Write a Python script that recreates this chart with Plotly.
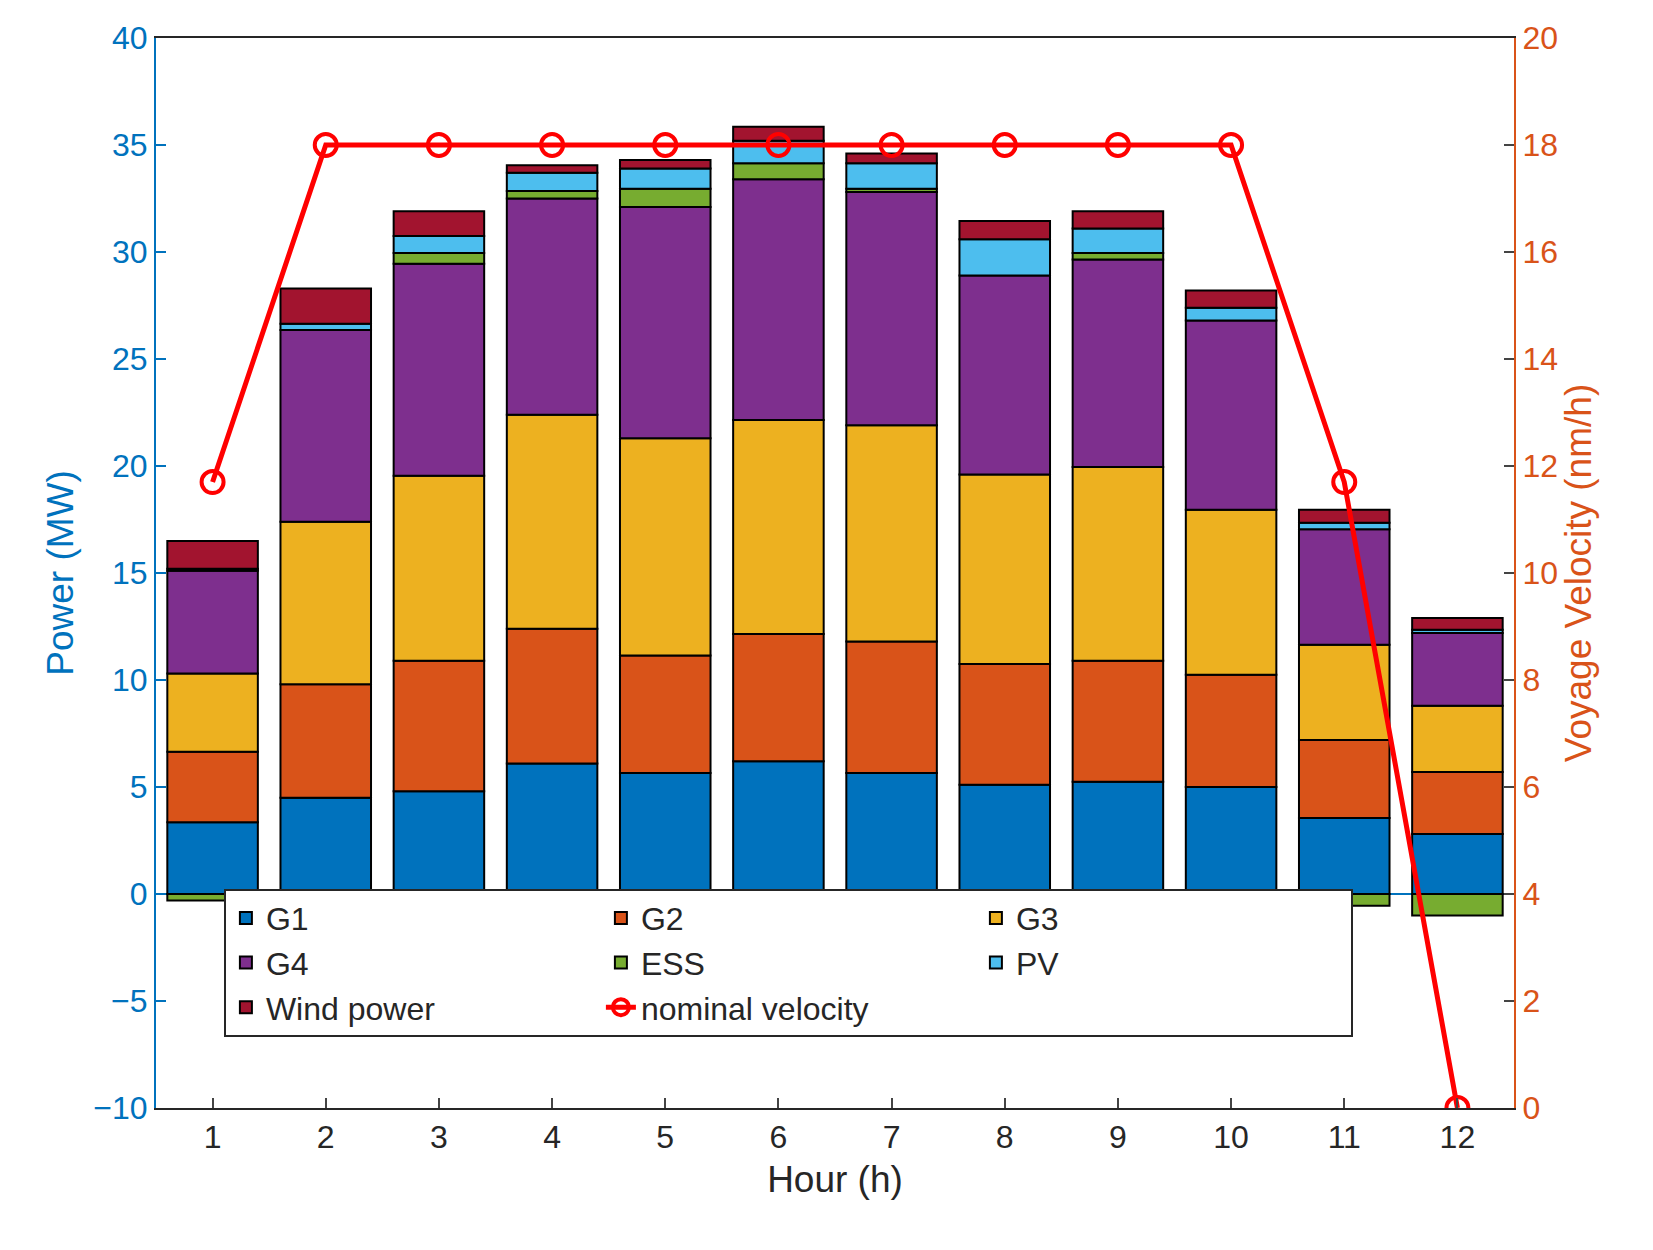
import plotly.graph_objects as go

hours = list(range(1, 13))
G1 = [3.35, 4.5, 4.8, 6.1, 5.65, 6.2, 5.65, 5.1, 5.25, 5.0, 3.55, 2.8]
G2 = [3.3, 5.3, 6.1, 6.3, 5.5, 5.95, 6.15, 5.65, 5.65, 5.25, 3.65, 2.9]
G3 = [3.65, 7.6, 8.65, 10.0, 10.15, 10.0, 10.1, 8.85, 9.05, 7.7, 4.45, 3.1]
G4 = [4.8, 8.95, 9.9, 10.1, 10.8, 11.25, 10.9, 9.3, 9.7, 8.85, 5.4, 3.4]
ESS = [-0.3, 0.0, 0.5, 0.35, 0.85, 0.75, 0.15, -0.15, 0.3, -0.5, -0.55, -1.0]
PV = [0.1, 0.3, 0.8, 0.85, 0.95, 1.05, 1.2, 1.7, 1.15, 0.6, 0.3, 0.15]
Wind = [1.3, 1.65, 1.15, 0.35, 0.4, 0.65, 0.45, 0.85, 0.8, 0.8, 0.6, 0.55]
velocity = [11.7, 18, 18, 18, 18, 18, 18, 18, 18, 18, 11.7, 0]

series = [("G1", G1, "#0072BD"), ("G2", G2, "#D95319"), ("G3", G3, "#EDB120"),
          ("G4", G4, "#7E2F8E"), ("ESS", ESS, "#77AC30"), ("PV", PV, "#4DBEEE"),
          ("Wind power", Wind, "#A2142F")]

fig = go.Figure()
for name, vals, col in series:
    fig.add_trace(go.Bar(x=hours, y=vals, name=name, marker=dict(color=col, line=dict(color="black", width=2)),
                         width=0.8))
fig.add_trace(go.Scatter(x=hours, y=velocity, name="nominal velocity", yaxis="y2", mode="lines+markers",
                         line=dict(color="#FF0000", width=5), cliponaxis=True,
                         marker=dict(symbol="circle-open", size=22, color="#FF0000", line=dict(width=4))))

font = dict(family="Liberation Sans, Arial", size=32, color="#262626")
fig.update_layout(
    width=1653, height=1250, barmode="relative", bargap=0.2,
    plot_bgcolor="white", paper_bgcolor="white", font=font,
    margin=dict(l=148, r=147, t=30, b=150),
    xaxis=dict(range=[0.5, 12.5], tickvals=hours, ticks="inside", ticklen=10, tickwidth=2,
               showline=True, linecolor="#262626", linewidth=2, mirror=True, showgrid=False,
               tickfont=dict(size=32, color="#262626"),
               title=dict(text="Hour (h)", font=dict(size=37, color="#262626"), standoff=12)),
    yaxis=dict(range=[-10, 40], dtick=5, ticks="inside", ticklen=10, tickwidth=2, color="#0072BD",
               showline=True, linecolor="#0072BD", linewidth=2, showgrid=False,
               zeroline=True, zerolinecolor="#0072BD", zerolinewidth=2,
               tickfont=dict(size=32, color="#0072BD"),
               title=dict(text="Power (MW)", font=dict(size=37, color="#0072BD"), standoff=8)),
    yaxis2=dict(range=[0, 20], dtick=2, overlaying="y", side="right", ticks="inside", ticklen=10, tickwidth=2,
                showline=True, linecolor="#D95319", linewidth=2, showgrid=False, zeroline=False,
                tickfont=dict(size=32, color="#D95319"),
                title=dict(text="Voyage Velocity (nm/h)", font=dict(size=37, color="#D95319"), standoff=8)),
    legend=dict(orientation="h", x=0.05, y=0.205, xanchor="left", yanchor="top",
                entrywidth=330, entrywidthmode="pixels", bordercolor="#262626", borderwidth=2,
                bgcolor="white", font=dict(size=32, color="#262626"), traceorder="normal"),
)
fig.write_html("out.html")
